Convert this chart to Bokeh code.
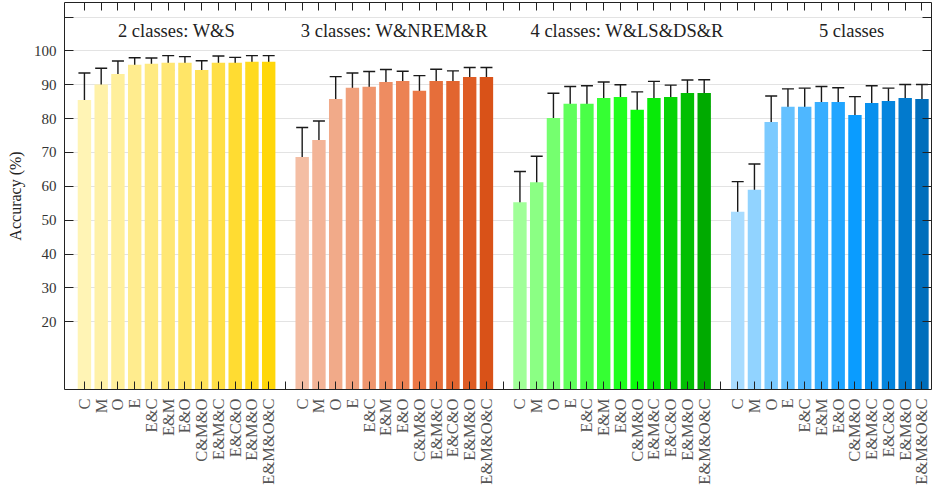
import math
from bokeh.plotting import figure
from bokeh.models import (FixedTicker, LinearAxis, Whisker, ColumnDataSource,
                          Range1d, TeeHead, Label)
from bokeh.embed import file_html
from bokeh.resources import INLINE

# ---------------- data ----------------
features = ["C", "M", "O", "E", "E&C", "E&M", "E&O", "C&M&O",
            "E&M&C", "E&C&O", "E&M&O", "E&M&O&C"]
group_titles = ["2 classes: W&S", "3 classes: W&NREM&R",
                "4 classes: W&LS&DS&R", "5 classes"]

acc_2 = [85.5, 90.1, 93.2, 95.9, 96.2, 96.5, 96.5, 94.4, 96.5, 96.5, 96.8, 96.8]
lo_2 = [77.5, 84.6, 89.3, 93.9, 94.2, 94.3, 94.7, 91.7, 94.3, 94.7, 94.8, 94.8]
hi_2 = [93.5, 94.9, 97.0, 98.0, 97.9, 98.6, 98.3, 97.1, 98.5, 98.1, 98.6, 98.6]

acc_3 = [68.7, 73.7, 85.8, 89.1, 89.4, 90.8, 91.1, 88.2, 91.1, 91.1, 92.3, 92.3]
lo_3 = [59.9, 67.7, 79.2, 84.7, 84.5, 87.2, 88.2, 83.4, 87.4, 88.2, 89.5, 89.5]
hi_3 = [77.4, 79.3, 92.4, 93.5, 93.9, 94.5, 94.0, 92.7, 94.6, 94.1, 95.1, 95.1]

acc_4 = [55.3, 61.2, 80.2, 84.4, 84.4, 86.1, 86.4, 82.6, 86.1, 86.4, 87.6, 87.6]
lo_4 = [46.4, 53.5, 73.1, 79.1, 78.9, 81.6, 82.7, 77.4, 81.1, 82.7, 83.6, 83.6]
hi_4 = [64.4, 68.9, 87.5, 89.5, 89.7, 90.8, 90.0, 87.9, 91.0, 89.9, 91.4, 91.5]

acc_5 = [52.5, 59.0, 79.0, 83.5, 83.5, 84.9, 84.9, 81.1, 84.6, 85.2, 86.1, 85.8]
lo_5 = [43.4, 51.5, 71.5, 78.2, 77.8, 80.3, 81.0, 75.6, 79.7, 81.1, 81.9, 81.8]
hi_5 = [61.4, 66.6, 86.7, 88.8, 89.0, 89.5, 89.1, 86.5, 89.7, 89.0, 90.1, 90.1]

y_ticks = [20, 30, 40, 50, 60, 70, 80, 90, 100, 110]
y_labels = ["20", "30", "40", "50", "60", "70", "80", "90", "100", ""]

groups = [(acc_2, lo_2, hi_2), (acc_3, lo_3, hi_3),
          (acc_4, lo_4, hi_4), (acc_5, lo_5, hi_5)]

# ---------------- styles ----------------
color_anchors = [
    [(255, 244, 181), (255, 226, 90), (255, 215, 10)],
    [(244, 190, 164), (235, 120, 70), (217, 82, 24)],
    [(160, 255, 152), (10, 255, 10), (0, 170, 0)],
    [(168, 220, 255), (10, 156, 255), (0, 110, 188)],
]
title_shift = [0.0, 0.0, 0.9, 1.3]
SERIF = "Liberation Serif"


def ramp(anchors, n):
    a, m, b = anchors
    mid = 7
    out = []
    for i in range(n):
        if i <= mid:
            t = i / mid
            c = [a[k] + (m[k] - a[k]) * t for k in range(3)]
        else:
            t = (i - mid) / (n - 1 - mid)
            c = [m[k] + (b[k] - m[k]) * t for k in range(3)]
        out.append("#%02x%02x%02x" % tuple(int(round(v)) for v in c))
    return out


xs, tops, lows, highs, colors = [], [], [], [], []
label_map = {}
n = len(features)
for g, (acc, lo, hi) in enumerate(groups):
    cols = ramp(color_anchors[g], n)
    for i in range(n):
        x = g * (n + 1) + i + 1
        xs.append(x)
        tops.append(acc[i])
        lows.append(lo[i])
        highs.append(hi[i])
        colors.append(cols[i])
        label_map[x] = features[i]

all_ticks = list(range(1, len(groups) * (n + 1)))
overrides = {t: label_map.get(t, "") for t in all_ticks}

src = ColumnDataSource(dict(x=xs, top=tops, lo=lows, hi=highs, color=colors))

p = figure(width=936, height=493, output_backend="svg", toolbar_location=None,
           x_range=Range1d(-0.19, 51.57), y_range=Range1d(0, 114.3),
           min_border_left=64, min_border_right=5, min_border_top=2,
           min_border_bottom=104, outline_line_color=None, title=None)

p.vbar(x="x", top="top", bottom=0, width=0.8, fill_color="color",
       line_color=None, source=src)

whisk = Whisker(base="x", lower="lo", upper="hi", source=src,
                line_color="#1a1a1a", line_width=1.4,
                upper_head=TeeHead(size=12, line_color="#1a1a1a", line_width=1.4),
                lower_head=TeeHead(size=12, line_color="#1a1a1a", line_width=1.4))
p.add_layout(whisk)

# grid
p.xgrid.visible = False
p.ygrid.ticker = FixedTicker(ticks=y_ticks)
p.ygrid.grid_line_color = "#e3e3e3"
p.ygrid.grid_line_width = 1

# left axis
ya = p.yaxis[0]
ya.ticker = FixedTicker(ticks=y_ticks)
ya.major_label_overrides = {t: l for t, l in zip(y_ticks, y_labels)}
ya.major_tick_in = 9
ya.major_tick_out = 0
ya.minor_tick_line_color = None
ya.axis_line_color = "#222222"
ya.major_tick_line_color = "#222222"
ya.major_label_text_font = SERIF
ya.major_label_text_font_size = "15px"
ya.major_label_text_color = "#333333"
ya.major_label_standoff = 8
ya.axis_label = "Accuracy (%)"
ya.axis_label_text_font = SERIF
ya.axis_label_text_font_style = "normal"
ya.axis_label_text_font_size = "16px"
ya.axis_label_text_color = "#222222"
ya.axis_label_standoff = 7

# bottom axis
xa = p.xaxis[0]
xa.ticker = FixedTicker(ticks=all_ticks)
xa.major_label_overrides = overrides
xa.major_label_orientation = math.pi / 2
xa.major_tick_in = 8
xa.major_tick_out = 0
xa.minor_tick_line_color = None
xa.axis_line_color = "#222222"
xa.major_tick_line_color = "#222222"
xa.major_label_text_font = SERIF
xa.major_label_text_font_size = "16.5px"
xa.major_label_text_color = "#555555"
xa.major_label_standoff = 9

# top axis
ta = LinearAxis(ticker=FixedTicker(ticks=all_ticks), major_tick_in=8,
                major_tick_out=0, minor_tick_line_color=None,
                major_label_text_font_size="0px", major_label_standoff=0,
                axis_line_color="#222222", major_tick_line_color="#222222")
ta.major_label_overrides = {t: "" for t in all_ticks}
p.add_layout(ta, "above")

# right axis
ra = LinearAxis(ticker=FixedTicker(ticks=y_ticks), major_tick_in=9,
                major_tick_out=0, minor_tick_line_color=None,
                major_label_text_font_size="0px", major_label_standoff=0,
                axis_line_color="#222222", major_tick_line_color="#222222")
ra.major_label_overrides = {t: "" for t in y_ticks}
p.add_layout(ra, "right")

# group titles
for g, title in enumerate(group_titles):
    cx = g * (n + 1) + (n + 1) / 2 + title_shift[g]
    p.add_layout(Label(x=cx, y=105.9, text=title, text_align="center",
                       text_baseline="middle", text_font=SERIF,
                       text_font_size="18.5px", text_color="#222222"))

open("out.html", "w").write(file_html(p, INLINE))
